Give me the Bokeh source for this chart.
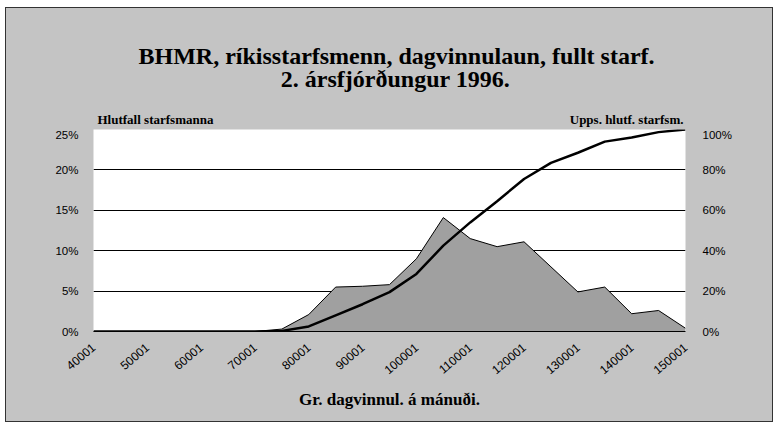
from bokeh.plotting import figure
from bokeh.layouts import column
from bokeh.models import Range1d, LinearAxis, FixedTicker, Label
from bokeh.embed import file_html
from bokeh.resources import INLINE

# ---- data ----
x_vals = [40001, 45001, 50001, 55001, 60001, 65001, 70001, 75001, 80001, 85001,
          90001, 95001, 100001, 105001, 110001, 115001, 120001, 125001, 130001,
          135001, 140001, 145001, 150001]
share = [0, 0, 0, 0, 0, 0, 0, 0.3, 2.1, 5.5, 5.6, 5.8, 9.0, 14.1, 11.5, 10.5,
         11.1, 8.0, 4.9, 5.5, 2.2, 2.6, 0.4]
cumulative = [0, 0, 0, 0, 0, 0, 0, 0.3, 2.5, 8.0, 13.5, 19.5, 28.5, 42.5, 54.0,
              64.5, 75.5, 83.5, 88.5, 94.0, 96.0, 98.7, 100.0]
x_ticks = [40001, 50001, 60001, 70001, 80001, 90001, 100001, 110001, 120001,
           130001, 140001, 150001]
x_tick_labels = ["40001", "50001", "60001", "70001", "80001", "90001", "100001",
                 "110001", "120001", "130001", "140001", "150001"]
left_ticks = [0, 5, 10, 15, 20, 25]
left_tick_labels = ["0%", "5%", "10%", "15%", "20%", "25%"]
right_ticks = [0, 20, 40, 60, 80, 100]
right_tick_labels = ["0%", "20%", "40%", "60%", "80%", "100%"]

title1 = "BHMR, ríkisstarfsmenn, dagvinnulaun, fullt starf."
title2 = "2. ársfjórðungur 1996."
left_title = "Hlutfall starfsmanna"
right_title = "Upps. hlutf. starfsm."
x_title = "Gr. dagvinnul. á mánuði."

BG = "#c4c4c4"
AREA = "#a0a0a0"
WIDTH = 766
HEAD_H = 120

# ---- header: titles ----
head = figure(width=WIDTH, height=HEAD_H, x_range=Range1d(0, 1), y_range=Range1d(0, 1),
              min_border=0, min_border_left=0, min_border_right=0,
              min_border_top=0, min_border_bottom=0,
              output_backend="svg", toolbar_location=None)
head.axis.visible = False
head.grid.visible = False
head.background_fill_color = None
head.border_fill_color = None
head.outline_line_color = None


def lab(fig, x, y, text, size, align="left"):
    fig.add_layout(Label(x=x, y=y, x_units="screen", y_units="screen",
                         text=text, text_font="Liberation Serif", text_font_size=size,
                         text_font_style="bold",
                         text_align=align, text_baseline="alphabetic",
                         text_color="black"))


# header frame is aligned with the chart frame (starts 87px in)
lab(head, 303, 73, title1, "24px", align="center")
lab(head, 302, 50, title2, "24px", align="center")
lab(head, 4, 9, left_title, "13px")
lab(head, 590, 9, right_title, "13px", align="right")

# ---- main chart ----
p = figure(frame_width=592, frame_height=202,
           min_border_left=87, min_border_right=87,
           min_border_top=1, min_border_bottom=90,
           x_range=Range1d(40001, 150001), y_range=Range1d(0, 25),
           output_backend="svg", toolbar_location=None)
p.background_fill_color = "white"
p.border_fill_color = None
p.outline_line_color = None

p.extra_y_ranges = {"cum": Range1d(0, 100)}

xa = p.xaxis[0]
xa.ticker = FixedTicker(ticks=x_ticks)
xa.major_label_overrides = {t: s for t, s in zip(x_ticks, x_tick_labels)}
xa.major_label_orientation = 0.7
xa.major_tick_line_color = None
xa.minor_tick_line_color = None
xa.axis_line_color = "black"
xa.major_label_standoff = 8
xa.major_label_text_font = "Liberation Sans"
xa.major_label_text_font_size = "12px"
xa.major_label_text_color = "black"
xa.axis_label = x_title
xa.axis_label_text_font = "Liberation Serif"
xa.axis_label_text_font_style = "bold"
xa.axis_label_text_font_size = "17px"
xa.axis_label_text_color = "black"
xa.axis_label_standoff = 9

ya = p.yaxis[0]
ya.ticker = FixedTicker(ticks=left_ticks)
ya.major_label_overrides = {t: s for t, s in zip(left_ticks, left_tick_labels)}
ya.major_tick_line_color = None
ya.minor_tick_line_color = None
ya.axis_line_color = None
ya.major_label_standoff = 9
ya.major_label_text_font = "Liberation Sans"
ya.major_label_text_font_size = "11.5px"
ya.major_label_text_color = "black"

ra = LinearAxis(y_range_name="cum", ticker=FixedTicker(ticks=right_ticks))
ra.major_label_overrides = {t: s for t, s in zip(right_ticks, right_tick_labels)}
ra.major_tick_line_color = None
ra.minor_tick_line_color = None
ra.axis_line_color = None
ra.major_label_standoff = 11
ra.major_label_text_font = "Liberation Sans"
ra.major_label_text_font_size = "11.5px"
ra.major_label_text_color = "black"
p.add_layout(ra, "right")

p.xgrid.grid_line_color = None
p.ygrid.ticker = FixedTicker(ticks=left_ticks)
p.ygrid.grid_line_color = "black"
p.ygrid.grid_line_width = 1

p.varea(x=x_vals, y1=0, y2=share, fill_color=AREA)
p.line(x_vals, share, line_color="black", line_width=1)
p.line(x_vals, cumulative, y_range_name="cum", line_color="black", line_width=2.5)

layout = column(head, p, spacing=0,
                styles={"margin-left": "6px", "margin-top": "8px",
                        "background-color": BG,
                        "outline": "1px solid #333"})

open("out.html", "w").write(file_html(layout, INLINE))
